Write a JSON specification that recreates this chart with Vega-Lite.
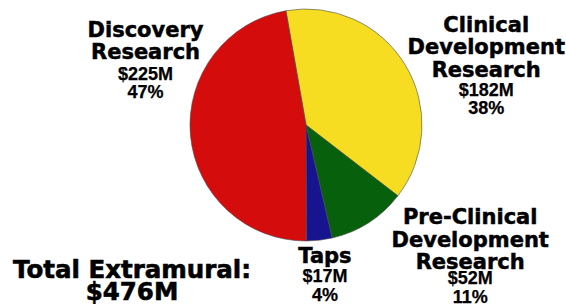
{
  "$schema": "https://vega.github.io/schema/vega-lite/v6.json",
  "width": 520,
  "height": 250,
  "autosize": "none",
  "padding": {"left": 46, "top": 0, "right": 0, "bottom": 56},
  "background": "white",
  "view": {"stroke": null},
  "data": {"values": [
    {"rank": 1, "category": "Clinical Development Research", "name": "Clinical|Development|Research", "value": 182, "figures": "$182M|38%"},
    {"rank": 2, "category": "Pre-Clinical Development Research", "name": "Pre-Clinical|Development|Research", "value": 52, "figures": "$52M|11%"},
    {"rank": 3, "category": "Taps", "name": "Taps", "value": 17, "figures": "$17M|4%"},
    {"rank": 4, "category": "Discovery Research", "name": "Discovery|Research", "value": 225, "figures": "$225M|47%"}
  ]},
  "layer": [
    {
      "mark": {"type": "arc", "radius": 116, "stroke": "#4a4a4a", "strokeWidth": 0.6},
      "encoding": {
        "theta": {"field": "value", "type": "quantitative", "stack": true, "scale": {"range": [-0.1745, 6.1087]}},
        "order": {"field": "rank", "type": "quantitative"},
        "color": {
          "field": "category", "type": "nominal", "legend": null,
          "scale": {
            "domain": ["Clinical Development Research", "Pre-Clinical Development Research", "Taps", "Discovery Research"],
            "range": ["#f6dd22", "#07600b", "#16148f", "#d40c0c"]
          }
        }
      }
    },
    {
      "mark": {
        "type": "text", "radius": 130, "font": "DejaVu Sans", "fontWeight": "bold", "fontSize": 21,
        "lineBreak": "|", "lineHeight": 22.5, "align": "center", "baseline": "alphabetic", "color": "black",
        "stroke": "black", "strokeWidth": 0.5,
        "dx": {"expr": "datum.rank == 1 ? 69 : datum.rank == 2 ? 94 : datum.rank == 3 ? 4 : -31"},
        "dy": {"expr": "datum.rank == 1 ? -26 : datum.rank == 2 ? -10 : datum.rank == 3 ? 9 : -100"}
      },
      "encoding": {
        "theta": {"field": "value", "type": "quantitative", "stack": true},
        "order": {"field": "rank", "type": "quantitative"},
        "text": {"field": "name", "type": "nominal"}
      }
    },
    {
      "mark": {
        "type": "text", "radius": 130, "font": "Liberation Sans", "fontWeight": "bold", "fontSize": 18,
        "lineBreak": "|", "lineHeight": 18.5, "align": "center", "baseline": "alphabetic", "color": "black",
        "stroke": "black", "strokeWidth": 0.25,
        "dx": {"expr": "datum.rank == 1 ? 69 : datum.rank == 2 ? 94 : datum.rank == 3 ? 4 : -31"},
        "dy": {"expr": "datum.rank == 1 ? 38 : datum.rank == 2 ? 50 : datum.rank == 3 ? 28 : -57"}
      },
      "encoding": {
        "theta": {"field": "value", "type": "quantitative", "stack": true},
        "order": {"field": "rank", "type": "quantitative"},
        "text": {"field": "figures", "type": "nominal"}
      }
    },
    {
      "data": {"values": [{"caption": "Total Extramural:|$476M"}]},
      "mark": {
        "type": "text", "font": "DejaVu Sans", "fontWeight": "bold", "fontSize": 24.5,
        "lineBreak": "|", "lineHeight": 22.5, "align": "center", "baseline": "alphabetic", "color": "black",
        "stroke": "black", "strokeWidth": 0.6,
        "dx": -174, "dy": 152.5
      },
      "encoding": {
        "text": {"field": "caption", "type": "nominal"}
      }
    }
  ]
}
